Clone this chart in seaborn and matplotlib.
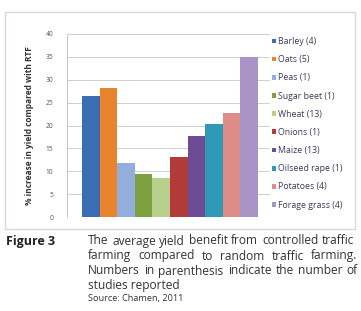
import matplotlib
matplotlib.use("Agg")
import matplotlib.pyplot as plt
import seaborn as sns
import pandas as pd
from matplotlib.patches import Rectangle, Patch

crops = ["Barley (4)", "Oats (5)", "Peas (1)", "Sugar beet (1)", "Wheat (13)",
         "Onions (1)", "Maize (13)", "Oilseed rape (1)", "Potatoes (4)", "Forage grass (4)"]
values = [26.4, 28.3, 11.7, 9.3, 8.5, 13.1, 17.6, 20.4, 22.8, 35.0]
colors = ["#3A6DB4", "#E8832E", "#93AEDD", "#7BA23F", "#B7D08E",
          "#B23A37", "#6D4C95", "#2E9AB6", "#DE8C88", "#A894C6"]
yticks = [0, 5, 10, 15, 20, 25, 30, 35, 40]

sns.set_theme(style="white")
plt.rcParams['font.family'] = ['Open Sans', 'DejaVu Sans']

W, H = 361, 311
fig = plt.figure(figsize=(3.61, 3.11), dpi=100)
fig.patch.set_facecolor("white")

# chart frame
fig.patches.append(Rectangle((5/W, 1 - 229/H), 350/W, (229-12)/H,
                             transform=fig.transFigure, fill=False,
                             edgecolor="#D4D8D8", linewidth=1.0))

ax = fig.add_axes([67/W, 1 - 217/H, 203/W, (217-34)/H])
df = pd.DataFrame({"crop": crops, "value": values})
sns.barplot(data=df, x="crop", y="value", hue="crop", palette=colors,
            width=1.0, dodge=False, legend=False, ax=ax, saturation=1,
            linewidth=0, edgecolor="none")
ax.set_xlim(-1.35, 10.18)
ax.set_ylim(0, 40)
ax.set_yticks(yticks)
ax.set_yticklabels([str(t) for t in yticks], fontsize=4.8, color="#555555")
ax.set_xticks([])
ax.set_xlabel("")
ax.set_ylabel("% increase in yield compared with RTF", fontsize=6.0,
              color="#333333", fontweight="bold", labelpad=8)
ax.yaxis.grid(True, color="#C8C8C8", linewidth=0.6)
ax.set_axisbelow(True)
for s in ["top", "right"]:
    ax.spines[s].set_visible(False)
ax.spines["bottom"].set_visible(False)
ax.spines["left"].set_color("#BDBDBD")
ax.spines["left"].set_linewidth(0.6)
ax.tick_params(axis="y", length=2, width=0.5, color="#BDBDBD", pad=8)

handles = [Patch(facecolor=c, edgecolor="none") for c in colors]
fig.legend(handles, crops, loc="upper left", bbox_to_anchor=(272/W, 1 - 37/H),
           frameon=False, fontsize=6.3, handlelength=0.45, handleheight=0.45,
           handletextpad=0.25, labelspacing=1.05, labelcolor="#3A3A5A",
           borderaxespad=0, borderpad=0)

# caption
fig.text(55/W, 1 - 241/H, "Figure 3", fontsize=9.0, fontweight="bold",
         color="#222222", va="center", ha="right")
lines = ["The average yield benefit from controlled traffic",
         "farming compared to random traffic farming.",
         "Numbers in parenthesis indicate the number of",
         "studies reported"]
right_ends = [354, 357, 358, None]
x0 = 88
fs = 8.6
renderer = fig.canvas.get_renderer()
for i, (ln, x1) in enumerate(zip(lines, right_ends)):
    y = 1 - (241 + 15*i)/H
    if x1 is None:
        fig.text(x0/W, y, ln, fontsize=fs, color="#333333", va="center", ha="left")
        continue
    words = ln.split(" ")
    arts = [fig.text(0, y, w, fontsize=fs, color="#333333", va="center", ha="left")
            for w in words]
    widths = [a.get_window_extent(renderer).width for a in arts]
    gap = max((x1 - x0 - sum(widths)) / (len(words) - 1), 3.0)
    x = x0
    for a, wd in zip(arts, widths):
        a.set_x(x / W)
        x += wd + gap
fig.text(88/W, 1 - 299/H, "Source: Chamen, 2011", fontsize=6.6,
         color="#333333", va="center", ha="left")

fig.savefig("out.png", dpi=100)
